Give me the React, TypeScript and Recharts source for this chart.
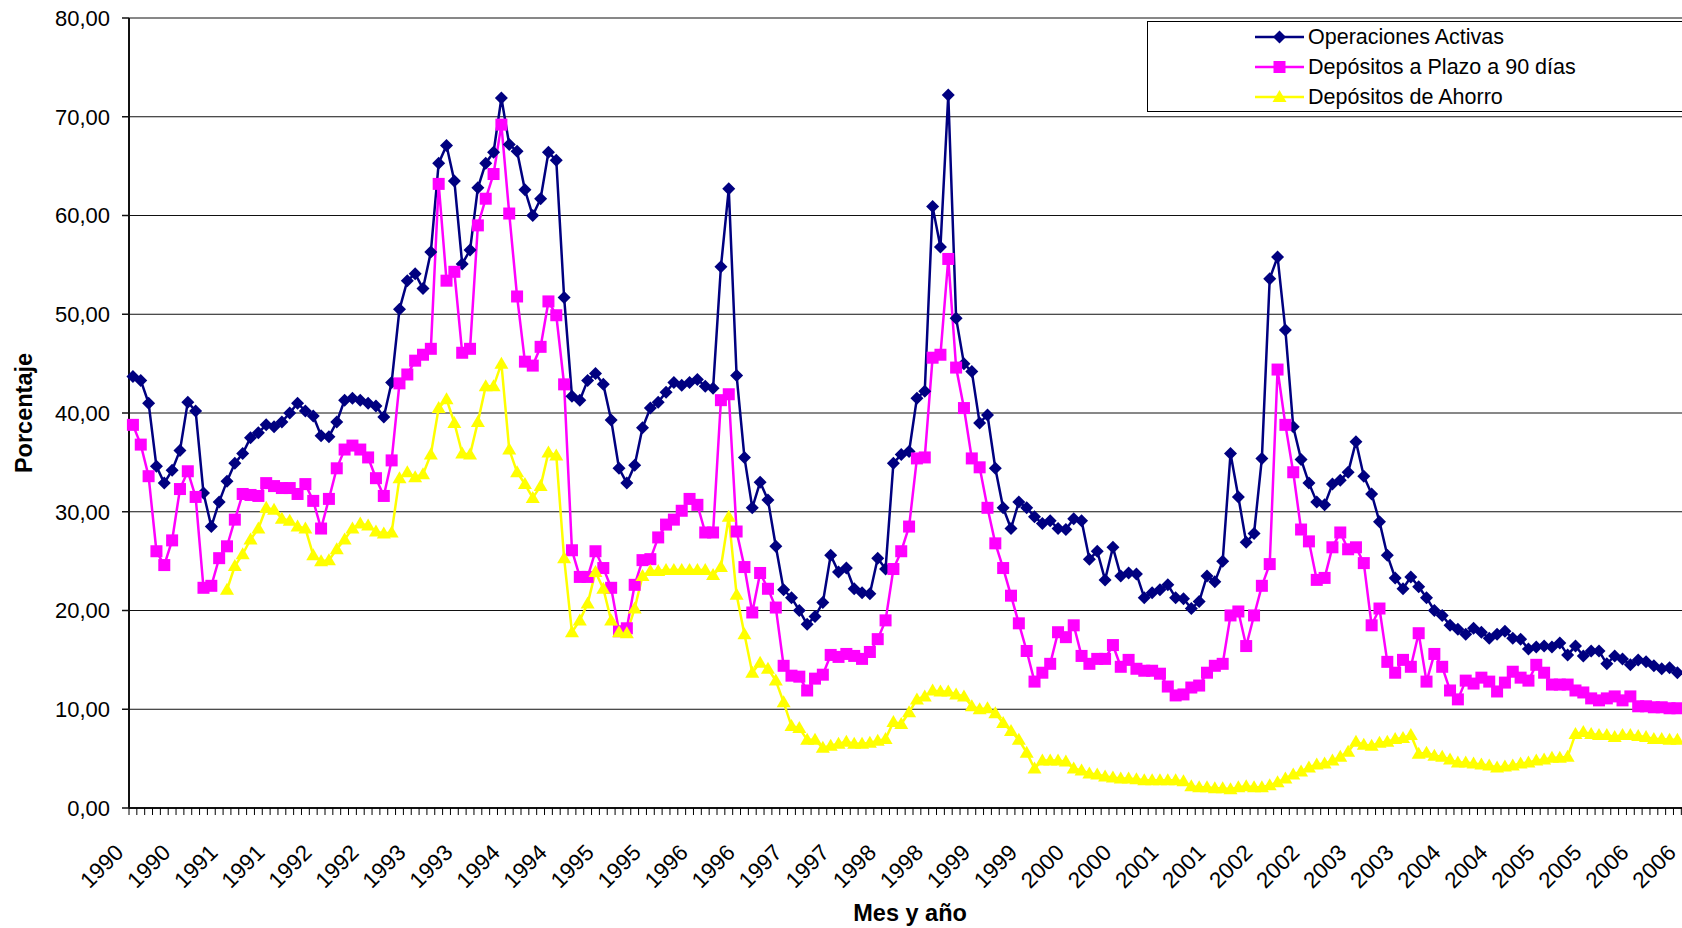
import React from "react";
import { LineChart, Line, XAxis, YAxis, CartesianGrid, Legend } from "recharts";

// Tasas de interés mensuales, ene-1990 .. jun-2006 (198 meses)
const OPERACIONES = [
  43.7, 43.3, 41.0, 34.6, 32.9, 34.2, 36.2, 41.1, 40.2, 31.9, 28.5, 31.0,
  33.1, 34.9, 35.9, 37.5, 38.0, 38.8, 38.6, 39.1, 40.0, 41.0, 40.2, 39.7,
  37.7, 37.6, 39.1, 41.3, 41.5, 41.3, 41.0, 40.7, 39.6, 43.1, 50.5, 53.4,
  54.1, 52.6, 56.3, 65.3, 67.1, 63.5, 55.1, 56.5, 62.8, 65.3, 66.4, 71.9,
  67.2, 66.5, 62.6, 60.0, 61.7, 66.4, 65.6, 51.7, 41.7, 41.3, 43.3, 44.0,
  42.9, 39.3, 34.4, 32.9, 34.7, 38.5, 40.5, 41.1, 42.1, 43.1, 42.8, 43.1,
  43.4, 42.7, 42.5, 54.8, 62.7, 43.8, 35.5, 30.4, 33.0, 31.2, 26.5, 22.1,
  21.3, 20.0, 18.6, 19.4, 20.8, 25.6, 23.9, 24.3, 22.2, 21.8, 21.7, 25.3,
  24.2, 34.9, 35.8, 36.1, 41.5, 42.2, 60.9, 56.8, 72.2, 49.6, 45.0, 44.2,
  39.0, 39.8, 34.4, 30.4, 28.3, 31.0, 30.4, 29.5, 28.8, 29.1, 28.3, 28.2,
  29.3, 29.1, 25.2, 26.0, 23.1, 26.4, 23.5, 23.8, 23.7, 21.3, 21.8, 22.1,
  22.6, 21.3, 21.2, 20.2, 20.9, 23.5, 22.9, 25.0, 35.9, 31.5, 26.9, 27.8,
  35.4, 53.6, 55.8, 48.4, 38.6, 35.3, 32.9, 31.0, 30.7, 32.8, 33.2, 34.0,
  37.1, 33.6, 31.8, 29.0, 25.6, 23.3, 22.2, 23.4, 22.4, 21.3, 20.0, 19.5,
  18.5, 18.1, 17.6, 18.2, 17.8, 17.2, 17.6, 17.9, 17.2, 17.1, 16.1, 16.3,
  16.4, 16.3, 16.7, 15.5, 16.4, 15.4, 15.9, 15.9, 14.6, 15.4, 15.1, 14.5,
  15.0, 14.8, 14.4, 14.1, 14.2, 13.7,
];

const PLAZO_90 = [
  38.8, 36.8, 33.6, 26.0, 24.6, 27.1, 32.3, 34.1, 31.5, 22.3, 22.5, 25.3,
  26.5, 29.2, 31.8, 31.7, 31.6, 32.9, 32.6, 32.4, 32.4, 31.8, 32.8, 31.1,
  28.3, 31.3, 34.4, 36.3, 36.7, 36.3, 35.5, 33.4, 31.6, 35.2, 43.0, 43.9,
  45.3, 45.9, 46.5, 63.2, 53.4, 54.3, 46.1, 46.5, 59.0, 61.7, 64.2, 69.2,
  60.2, 51.8, 45.2, 44.8, 46.7, 51.3, 49.9, 42.9, 26.1, 23.4, 23.4, 26.0,
  24.3, 22.3, 17.9, 18.2, 22.6, 25.1, 25.2, 27.4, 28.7, 29.2, 30.1, 31.3,
  30.7, 27.9, 27.9, 41.3, 41.9, 28.0, 24.4, 19.8, 23.8, 22.2, 20.3, 14.4,
  13.4, 13.3, 11.9, 13.1, 13.5, 15.5, 15.3, 15.6, 15.4, 15.1, 15.8, 17.1,
  19.0, 24.2, 26.0, 28.5, 35.4, 35.5, 45.6, 45.9, 55.6, 44.6, 40.5, 35.4,
  34.5, 30.4, 26.8, 24.3, 21.5, 18.7, 15.9, 12.8, 13.7, 14.6, 17.8, 17.3,
  18.5, 15.4, 14.6, 15.1, 15.1, 16.5, 14.3, 15.0, 14.1, 13.9, 13.9, 13.6,
  12.3, 11.4, 11.5, 12.2, 12.4, 13.7, 14.4, 14.6, 19.5, 19.9, 16.4, 19.5,
  22.5, 24.7, 44.4, 38.8, 34.0, 28.2, 27.0, 23.1, 23.3, 26.4, 27.9, 26.2,
  26.4, 24.8, 18.5, 20.2, 14.8, 13.7, 15.0, 14.3, 17.7, 12.8, 15.6, 14.3,
  11.9, 11.0, 12.9, 12.6, 13.2, 12.8, 11.8, 12.7, 13.8, 13.2, 12.9, 14.5,
  13.7, 12.5, 12.5, 12.5, 11.9, 11.7, 11.1, 10.9, 11.1, 11.3, 10.9, 11.3,
  10.3, 10.3, 10.2, 10.2, 10.1, 10.1,
];

// la serie de ahorro empieza en ene-1991
const AHORRO = [
  null, null, null, null, null, null, null, null, null, null, null, null,
  22.1, 24.5, 25.7, 27.2, 28.3, 30.4, 30.2, 29.3, 29.1, 28.5, 28.3, 25.6,
  25.0, 25.1, 26.2, 27.2, 28.3, 28.8, 28.6, 28.0, 27.8, 27.9, 33.4, 34.0,
  33.5, 33.8, 35.8, 40.5, 41.4, 39.0, 35.9, 35.8, 39.1, 42.7, 42.7, 45.0,
  36.3, 34.0, 32.8, 31.4, 32.6, 36.0, 35.7, 25.3, 17.8, 19.0, 20.7, 23.9,
  22.2, 19.0, 17.8, 17.7, 20.2, 23.5, 24.0, 24.0, 24.1, 24.1, 24.1, 24.1,
  24.1, 24.1, 23.6, 24.4, 29.5, 21.6, 17.6, 13.7, 14.7, 14.1, 12.9, 10.7,
  8.3, 8.1, 6.9, 6.9, 6.1, 6.3, 6.5, 6.7, 6.5, 6.5, 6.6, 6.8,
  7.0, 8.7, 8.5, 9.7, 11.0, 11.3, 11.9, 11.8, 11.8, 11.5, 11.3, 10.3,
  10.0, 10.1, 9.6, 8.6, 7.8, 6.9, 5.6, 4.0, 4.8, 4.8, 4.8, 4.7,
  4.0, 3.8, 3.5, 3.4, 3.2, 3.1, 3.0, 3.0, 2.9, 2.8, 2.8, 2.8,
  2.8, 2.8, 2.7, 2.2, 2.1, 2.1, 2.0, 2.0, 1.9, 2.1, 2.2, 2.1,
  2.1, 2.3, 2.6, 3.0, 3.4, 3.7, 4.1, 4.4, 4.5, 4.8, 5.2, 5.7,
  6.7, 6.4, 6.3, 6.6, 6.7, 7.0, 7.1, 7.4, 5.5, 5.6, 5.3, 5.2,
  4.9, 4.6, 4.6, 4.5, 4.4, 4.3, 4.1, 4.2, 4.3, 4.5, 4.6, 4.8,
  4.9, 5.1, 5.1, 5.2, 7.5, 7.7, 7.5, 7.4, 7.4, 7.2, 7.4, 7.4,
  7.3, 7.2, 7.0, 7.0, 6.9, 6.9,
];

const MESES = ["ene", "feb", "mar", "abr", "may", "jun", "jul", "ago", "sep", "oct", "nov", "dic"];
// 199 categorías: la última (jul-2006) sólo lleva su etiqueta
const CATEGORIAS = Array.from({ length: 199 }, (_, i) => `${MESES[i % 12]}-${1990 + Math.floor(i / 12)}`);

// una etiqueta cada 6 meses
const ETIQUETAS_X = [
  "1990", "1990", "1991", "1991", "1992", "1992", "1993", "1993", "1994", "1994",
  "1995", "1995", "1996", "1996", "1997", "1997", "1998", "1998", "1999", "1999",
  "2000", "2000", "2001", "2001", "2002", "2002", "2003", "2003", "2004", "2004",
  "2005", "2005", "2006", "2006",
];

const Y_TICKS = [0, 10, 20, 30, 40, 50, 60, 70, 80];

type Shape = "diamond" | "square" | "triangle";

const SERIES: { key: string; name: string; color: string; shape: Shape }[] = [
  { key: "activas", name: "Operaciones Activas", color: "#000080", shape: "diamond" },
  { key: "plazo", name: "Depósitos a Plazo a 90 días", color: "#FF00FF", shape: "square" },
  { key: "ahorro", name: "Depósitos de Ahorro", color: "#FFFF00", shape: "triangle" },
];

const data = CATEGORIAS.map((mes, i) => ({
  mes,
  activas: OPERACIONES[i] ?? null,
  plazo: PLAZO_90[i] ?? null,
  ahorro: AHORRO[i] ?? null,
}));

const FONT = '"Liberation Sans", Arial, sans-serif';
const CHART_W = 1700;
const CHART_H = 928;
const Y_AXIS_W = 129;
const PASO = 7.84;
const MARGIN_RIGHT = CHART_W - Y_AXIS_W - CATEGORIAS.length * PASO;

function marker(shape: Shape, cx: number, cy: number, color: string, key?: string) {
  if (shape === "diamond") {
    return (
      <path key={key} d={`M${cx},${cy - 6.5}L${cx + 6.5},${cy}L${cx},${cy + 6.5}L${cx - 6.5},${cy}Z`} fill={color} />
    );
  }
  if (shape === "square") {
    return <rect key={key} x={cx - 6} y={cy - 6} width={12} height={12} fill={color} />;
  }
  return <path key={key} d={`M${cx},${cy - 7}L${cx + 7},${cy + 5}L${cx - 7},${cy + 5}Z`} fill={color} />;
}

function renderDot(p: any, s: (typeof SERIES)[number]) {
  const key = `${s.key}-${p.index}`;
  if (p.cx == null || p.cy == null || p.value == null || Number.isNaN(p.cy)) return <g key={key} />;
  return marker(s.shape, p.cx, p.cy, s.color, key);
}

function TickMes(props: any) {
  const { x, y, index } = props;
  const label = index % 6 === 0 ? ETIQUETAS_X[index / 6] : null;
  const ax = x - 8;
  const ay = y + 46;
  return (
    <g>
      <line x1={x - PASO / 2} y1={y} x2={x - PASO / 2} y2={y + 7} stroke="#000" strokeWidth={1} />
      {label && (
        <text x={ax} y={ay} textAnchor="end" transform={`rotate(-45 ${ax} ${ay})`} fontSize={22.5} fill="#000" fontFamily={FONT}>
          {label}
        </text>
      )}
    </g>
  );
}

function TituloY(props: any) {
  const { viewBox } = props;
  const x = viewBox.x + 24;
  const y = viewBox.y + viewBox.height / 2;
  return (
    <text x={x} y={y} transform={`rotate(-90 ${x} ${y})`} textAnchor="middle" dominantBaseline="central" fontSize={23.5} fontWeight="bold" fill="#000" fontFamily={FONT}>
      Porcentaje
    </text>
  );
}

function TituloX(props: any) {
  const { viewBox } = props;
  const x = viewBox.x + viewBox.width / 2 + 1;
  const y = viewBox.y + 113;
  return (
    <text x={x} y={y} textAnchor="middle" fontSize={23.5} fontWeight="bold" fill="#000" fontFamily={FONT}>
      Mes y año
    </text>
  );
}

function Leyenda() {
  return (
    <div style={{ width: 600, height: 89, border: "1px solid #000", background: "#fff", position: "relative", fontFamily: FONT }}>
      {SERIES.map((s, i) => (
        <div key={s.key} style={{ position: "absolute", left: 107, top: -0.5 + i * 30, height: 30, display: "flex", alignItems: "center", whiteSpace: "nowrap" }}>
          <svg width={49} height={30} style={{ display: "block" }}>
            <line x1={0} y1={15} x2={49} y2={15} stroke={s.color} strokeWidth={2.5} />
            {marker(s.shape, 24.5, 15, s.color)}
          </svg>
          <span style={{ marginLeft: 4, fontSize: 21.5, color: "#000", lineHeight: "30px" }}>{s.name}</span>
        </div>
      ))}
    </div>
  );
}

export default function App() {
  return (
    <div style={{ position: "absolute", left: 0, top: 0, width: 1682, height: 928, overflow: "hidden", background: "#fff", fontFamily: FONT }}>
      <LineChart width={CHART_W} height={CHART_H} data={data} margin={{ top: 18, right: MARGIN_RIGHT, bottom: 0, left: 0 }}>
        <CartesianGrid vertical={false} stroke="#111" strokeWidth={1} />
        <XAxis
          dataKey="mes"
          type="category"
          interval={0}
          height={120}
          padding={{ left: PASO / 2, right: PASO / 2 }}
          tickLine={false}
          tickSize={0}
          tickMargin={0}
          tick={TickMes}
          axisLine={{ stroke: "#111", strokeWidth: 2 }}
          label={<TituloX />}
        />
        <YAxis
          type="number"
          domain={[0, 80]}
          ticks={Y_TICKS}
          interval={0}
          width={Y_AXIS_W}
          tickSize={7}
          tickMargin={12}
          tickFormatter={(v: number) => v.toFixed(2).replace(".", ",")}
          tick={{ fontSize: 22, fill: "#000", fontFamily: FONT }}
          tickLine={{ stroke: "#111", strokeWidth: 1.5 }}
          axisLine={{ stroke: "#111", strokeWidth: 2 }}
          label={<TituloY />}
        />
        <Legend
          layout="vertical"
          align="center"
          verticalAlign="middle"
          width={602}
          height={91}
          wrapperStyle={{ left: 1147, top: 21, width: 602, height: 91 }}
          content={<Leyenda />}
        />
        {SERIES.map((s) => (
          <Line
            key={s.key}
            dataKey={s.key}
            name={s.name}
            type="linear"
            stroke={s.color}
            strokeWidth={2.5}
            dot={(p: any) => renderDot(p, s)}
            activeDot={false}
            connectNulls={false}
            isAnimationActive={false}
          />
        ))}
      </LineChart>
    </div>
  );
}
